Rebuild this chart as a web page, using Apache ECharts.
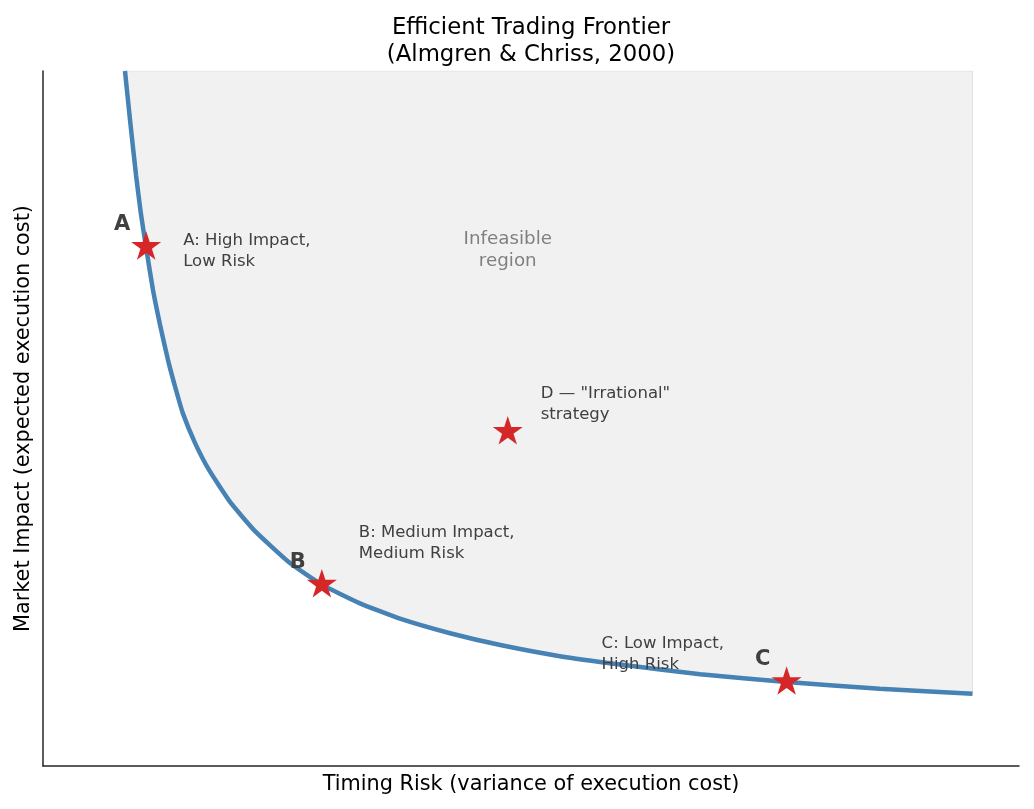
<!DOCTYPE html>
<html>
<head>
<meta charset="utf-8">
<script src="https://cdn.jsdelivr.net/npm/echarts@6/dist/echarts.min.js"></script>
<style>
  html, body { margin: 0; padding: 0; background: #fff; }
  #chart { width: 1034px; height: 809px; }
</style>
</head>
<body>
<div id="chart"></div>
<script>
// frontier curve
var curveX = [0.0882, 0.0936, 0.1001, 0.1054, 0.1108, 0.1183, 0.1259, 0.1345, 0.1431, 0.1506, 0.1635, 0.1786, 0.2012, 0.2281, 0.2657, 0.300, 0.341, 0.384, 0.438, 0.492, 0.556, 0.621, 0.707, 0.800, 0.900, 1.000];
var curveY = [10.00, 9.30, 8.50, 7.94, 7.47, 6.85, 6.35, 5.84, 5.41, 5.07, 4.65, 4.26, 3.80, 3.38, 2.92, 2.61, 2.34, 2.12, 1.91, 1.74, 1.58, 1.46, 1.32, 1.21, 1.11, 1.04];

// highlighted strategies
var pointLetters = ['A', 'B', 'C', ''];
var pointX = [0.111, 0.300, 0.800, 0.500];
var pointY = [7.47, 2.61, 1.21, 4.81];
var pointNotes = ['A: High Impact,\nLow Risk', 'B: Medium Impact,\nMedium Risk', 'C: Low Impact,\nHigh Risk', 'D \u2014 "Irrational"\nstrategy'];

var regionLabelX = [0.5];
var regionLabelY = [7.44];

var xMax = 1.05, yMax = 10;
var font = "'DejaVu Sans', sans-serif";
var textGrey = '#404040';
// pixel offsets of each note from its star
var noteOffsets = [[37, 4.5], [37, -41], [-185, -28], [33, -27]];

var starPath = 'path://M100,0L122.45,69.1L195.11,69.1L136.33,111.8L158.78,180.9L100,138.2L41.22,180.9L63.67,111.8L4.89,69.1L77.55,69.1Z';

var curve = curveX.map(function (x, i) { return [x, curveY[i]]; });
var last = curve.length - 1;
var edge = [[curveX[0], yMax], [curveX[last], yMax], [curveX[last], curveY[last]]];

var stars = [], letters = [], notes = [];
for (var i = 0; i < pointX.length; i++) {
  stars.push([pointX[i], pointY[i]]);
  if (pointLetters[i]) letters.push({ value: [pointX[i], pointY[i]], name: pointLetters[i] });
  notes.push({
    value: [pointX[i], pointY[i]],
    name: pointNotes[i],
    label: { offset: noteOffsets[i] }
  });
}
var region = regionLabelX.map(function (x, i) { return { value: [x, regionLabelY[i]], name: 'Infeasible\nregion' }; });

var hidden = { color: 'rgba(0,0,0,0)', opacity: 1 };

var myChart = echarts.init(document.getElementById('chart'));
var option = {
  animation: false,
  textStyle: { fontFamily: font },
  grid: { left: 43, right: 15, top: 71, bottom: 43 },
  graphic: [
    {
      type: 'text', x: 531, y: 15,
      style: {
        text: 'Efficient Trading Frontier\n(Almgren & Chriss, 2000)',
        align: 'center', verticalAlign: 'top',
        font: "22.8px 'DejaVu Sans'", lineHeight: 27, fill: '#000'
      }
    }
  ],
  xAxis: {
    type: 'value', min: 0, max: xMax,
    name: 'Timing Risk (variance of execution cost)',
    nameLocation: 'middle', nameGap: 8,
    nameTextStyle: { fontSize: 20.8, color: '#000', fontFamily: font },
    axisLine: { show: true, lineStyle: { color: '#262626', width: 1.5 } },
    axisTick: { show: false }, axisLabel: { show: false }, splitLine: { show: false }
  },
  yAxis: {
    type: 'value', min: 0, max: yMax,
    name: 'Market Impact (expected execution cost)',
    nameLocation: 'middle', nameGap: 9,
    nameTextStyle: { fontSize: 20.8, color: '#000', fontFamily: font },
    axisLine: { show: true, lineStyle: { color: '#262626', width: 1.5 } },
    axisTick: { show: false }, axisLabel: { show: false }, splitLine: { show: false }
  },
  series: [
    {
      name: 'region', type: 'line', data: curve, z: 1, silent: true,
      symbol: 'none', smooth: 0.15,
      lineStyle: { width: 0 },
      areaStyle: { origin: 'end', color: '#f1f1f1', opacity: 1 }
    },
    {
      name: 'edge', type: 'line', data: edge, z: 2, silent: true,
      symbol: 'none', lineStyle: { color: '#e2e2e2', width: 1 }
    },
    {
      name: 'frontier', type: 'line', data: curve, z: 3,
      symbol: 'none', smooth: 0.15,
      lineStyle: { color: '#4682b4', width: 4.5 }
    },
    {
      name: 'strategies', type: 'scatter', data: stars, z: 5,
      symbol: starPath, symbolSize: [30, 28.5], symbolOffset: [0, -1.4],
      itemStyle: { color: '#d62728', opacity: 1 }
    },
    {
      name: 'letters', type: 'scatter', data: letters, z: 6,
      symbolSize: 1, itemStyle: hidden,
      label: {
        show: true, position: 'inside', formatter: '{b}',
        offset: [-24, -22], align: 'center', verticalAlign: 'middle',
        fontSize: 21, fontWeight: 'bold', color: textGrey, fontFamily: font
      }
    },
    {
      name: 'notes', type: 'scatter', data: notes, z: 6,
      symbolSize: 1, itemStyle: hidden,
      label: {
        show: true, position: 'inside', formatter: '{b}',
        align: 'left', verticalAlign: 'middle',
        fontSize: 16.5, lineHeight: 21, color: textGrey, fontFamily: font
      }
    },
    {
      name: 'regionText', type: 'scatter', data: region, z: 6,
      symbolSize: 1, itemStyle: hidden,
      label: {
        show: true, position: 'inside', formatter: '{b}',
        offset: [0, 1], align: 'center', verticalAlign: 'middle',
        fontSize: 18.3, lineHeight: 22, color: '#808080', fontFamily: font
      }
    }
  ]
};
myChart.setOption(option);
</script>
</body>
</html>
